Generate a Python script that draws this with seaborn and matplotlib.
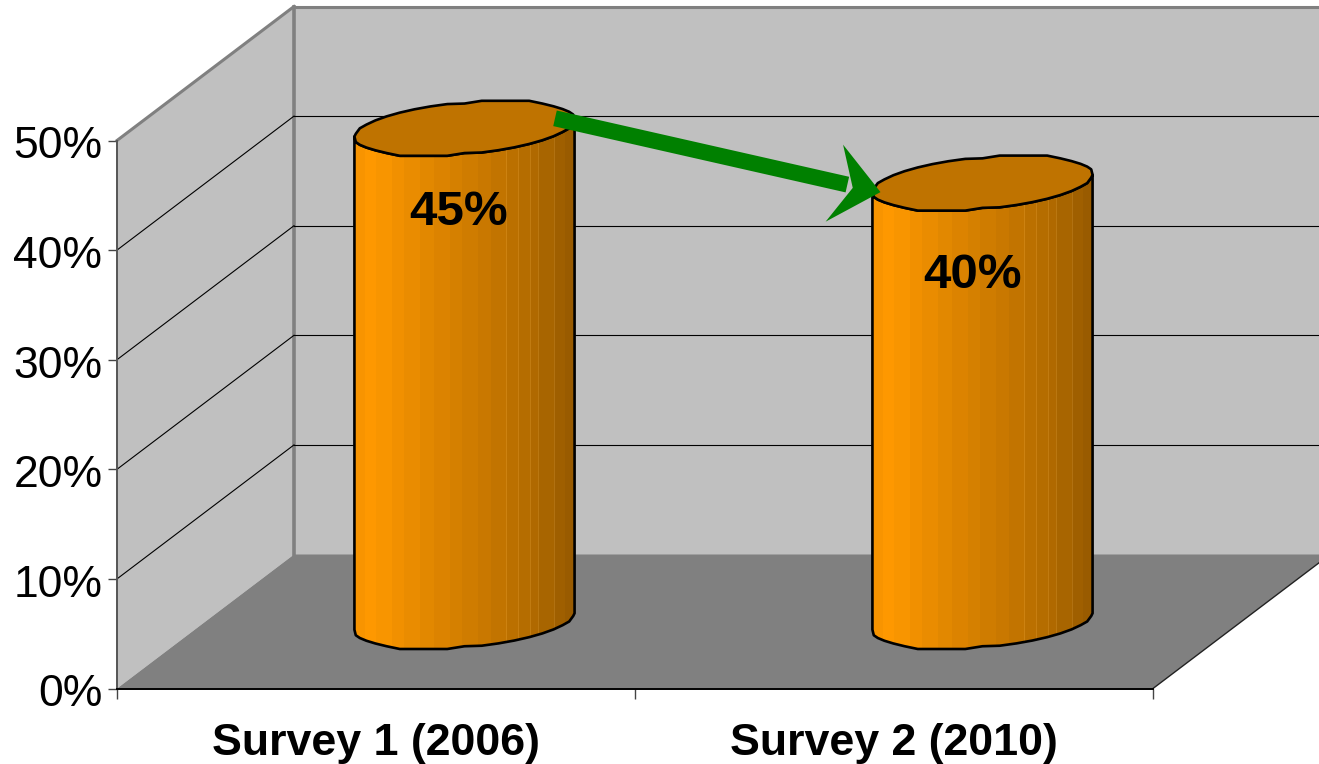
import numpy as np
import matplotlib
matplotlib.use("Agg")
import matplotlib.pyplot as plt
from matplotlib.colors import to_rgb
from matplotlib.patches import Polygon, PathPatch
from matplotlib.path import Path
from matplotlib.transforms import Affine2D, IdentityTransform, ScaledTranslation
import seaborn as sns

categories = ["Survey 1 (2006)", "Survey 2 (2010)"]
values = [45, 40]
value_labels = ["45%", "40%"]
y_ticks = [0, 10, 20, 30, 40, 50]

sns.set_theme(style="white")
plt.rcParams["font.family"] = ["Liberation Sans", "DejaVu Sans"]

W, H = 1319, 764
fig = plt.figure(figsize=(W / 100, H / 100), dpi=100, facecolor="white")
ax = fig.add_axes([117 / W, (H - 688.5) / H, 1036 / W, 548 / H], facecolor="none")

sns.barplot(x=categories, y=values, width=0.425, color="#FF9900", saturation=1,
            ax=ax, zorder=3)
ax.set_xlim(-0.5, 1.5)
ax.set_ylim(0, 50)

# Oblique projection: screen offset in pixels of the full box depth
DEPTH = np.array([177.0, 134.0])
to_px = ax.transData.transform


def add_poly(points, **kw):
    patch = Polygon(points, closed=True, transform=IdentityTransform(), clip_on=False, **kw)
    ax.add_patch(patch)
    return patch


def add_line(a, b, color, lw, z=1.5):
    ax.plot([a[0], b[0]], [a[1], b[1]], color=color, lw=lw, transform=IdentityTransform(),
            clip_on=False, zorder=z, solid_capstyle="projecting")


# Walls and floor of the 3D box
p00, p10 = to_px((-0.5, 0)), to_px((1.5, 0))
p01, p11 = to_px((-0.5, 50)), to_px((1.5, 50))
add_poly([p00, p01, p01 + DEPTH, p00 + DEPTH], facecolor="#C0C0C0", edgecolor="none", zorder=1)
add_poly([p00 + DEPTH, p01 + DEPTH, p11 + DEPTH, p10 + DEPTH], facecolor="#C0C0C0",
         edgecolor="none", zorder=1)
add_poly([p00, p10, p10 + DEPTH, p00 + DEPTH], facecolor="#808080", edgecolor="none", zorder=1.2)

for v in y_ticks[1:-1]:
    front = to_px((-0.5, v))
    back = front + DEPTH
    add_line(front, back, "black", 0.8)
    add_line(back, to_px((1.5, v)) + DEPTH, "black", 0.8)

add_line(p01, p01 + DEPTH, "#808080", 2.2)
add_line(p01 + DEPTH, p11 + DEPTH, "#808080", 2.2)
add_line(p00 + DEPTH, p01 + DEPTH, "#808080", 2.6, z=1.1)
add_line(p10, p10 + DEPTH, "#222222", 1.0)

# Colour bands running around the cylinder body
stops_x = [0.00, 0.08, 0.30, 0.60, 0.80, 1.00]
stops_c = ["#F59300", "#FF9900", "#E68A00", "#C87800", "#B26B00", "#965A00"]
rgb = np.array([to_rgb(c) for c in stops_c])
n_col = 220
band_edges = np.array([0, 11, 22, 38, 50, 66, 80, 96, 108, 123, 136, 151, 163, 175, 183, 199, 210, 220])
band_colour = np.zeros((1, n_col, 3))
for lo, hi in zip(band_edges[:-1], band_edges[1:]):
    mid = (lo + hi) / 2 / n_col
    band_colour[0, lo:hi] = [np.interp(mid, stops_x, rgb[:, k]) for k in range(3)]
for seam in (151, 163, 175, 183, 199):
    band_colour[0, seam] = np.minimum(band_colour[0, seam] + 0.07, 1)

TOP_COLOUR = "#BF7300"
EDGE_LW = 1.9
N = 40
SNAP = 2.75

for bar, label, (lx, ly) in zip(ax.patches, value_labels, [(-5.5, -84), (-9.5, -92)]):
    left, width, height = bar.get_x(), bar.get_width(), bar.get_height()
    base = to_px((left + width / 2, 0)) + DEPTH / 2
    top = to_px((left + width / 2, height)) + DEPTH / 2
    half_w = (to_px((left + width, 0))[0] - to_px((left, 0))[0]) / 2

    # Elliptical cross-section sheared along the depth direction
    ey = 27.5
    ex = ey * DEPTH[0] / DEPTH[1]
    rx = np.sqrt(half_w ** 2 - ex ** 2)
    a = np.arctan2(ex, rx)
    t = a + np.arange(N + 1) * 2 * np.pi / N

    def ring(centre, params):
        # The coarse outline steps only along the flats and two opposite shoulders
        xs = rx * np.cos(params) + ex * np.sin(params)
        ys = ey * np.sin(params)
        stepped = (np.sin(params) * np.cos(params) > 0) | (np.abs(np.sin(params)) > 0.93)
        ys = np.where(stepped, np.round(ys / SNAP) * SNAP, ys)
        return np.column_stack([centre[0] + xs, centre[1] + ys])

    front_t = t[N // 2:]
    body_pts = np.vstack([ring(base, front_t), ring(top, front_t[::-1])])
    outline = Path(np.vstack([body_pts, body_pts[:1]]), closed=True)
    body = PathPatch(outline, facecolor="none", edgecolor="black", lw=EDGE_LW,
                     transform=IdentityTransform(), clip_on=False, zorder=5, joinstyle="round")
    ax.add_patch(body)

    # Slide the bar to mid-depth and shape it to the cylinder silhouette
    bar.set_transform(ax.transData + Affine2D().translate(*(DEPTH / 2)))
    bar.set_edgecolor("none")
    bar.set_clip_box(fig.bbox)
    bar.set_clip_path(body)

    im = ax.imshow(band_colour, extent=(base[0] - half_w, base[0] + half_w,
                                        base[1] - 40, top[1] + 40),
                   transform=IdentityTransform(), aspect="auto", interpolation="nearest", zorder=4)
    im.set_clip_box(fig.bbox)
    im.set_clip_path(body)

    add_poly(ring(top, t[:-1]), facecolor=TOP_COLOUR, edgecolor="black", lw=EDGE_LW,
             zorder=6, joinstyle="round")

    ax.text(top[0] + lx, top[1] + ly, label, transform=IdentityTransform(), ha="center",
            va="center", fontsize=35.5, fontweight="bold", color="black", zorder=8)

# Green arrow from the first cylinder's top to the second's
top_a = to_px((0, values[0])) + DEPTH / 2
top_b = to_px((1, values[1])) + DEPTH / 2
start = top_a + np.array([90.5, 10.0])
tip = top_b + np.array([-102.0, -9.0])
u = (tip - start) / np.linalg.norm(tip - start)
n = np.array([-u[1], u[0]])
add_poly([tip, tip - 47 * u + 38 * n, tip - 28 * u - 2 * n, tip - 47 * u - 41 * n],
         facecolor="#008000", edgecolor="none", zorder=7)
shaft_end = tip - 34 * u
add_poly([start + 8 * n, shaft_end + 8 * n, shaft_end - 8 * n, start - 8 * n],
         facecolor="#008000", edgecolor="none", zorder=7)

# Axes, ticks and labels
ax.set_yticks(y_ticks)
ax.set_yticklabels([f"{v}%" for v in y_ticks])
ax.set_xticks([-0.5, 0.5, 1.5])
ax.set_xticklabels([])
ax.set_xticks([0, 1], minor=True)
ax.set_xticklabels(categories, minor=True, fontsize=32.2, fontweight="bold")
ax.tick_params(axis="y", which="major", left=True, length=6.5, width=1, color="#444444",
               labelsize=32, pad=4, labelcolor="black")
ax.tick_params(axis="x", which="major", bottom=True, length=7, width=1, color="#444444")
ax.tick_params(axis="x", which="minor", bottom=False, length=0, pad=25, labelcolor="black")
for lab in ax.get_yticklabels():
    lab.set_transform(lab.get_transform() + ScaledTranslation(0, -2 / 100, fig.dpi_scale_trans))
ax.set_xlabel("")
ax.set_ylabel("")
for side in ("top", "right"):
    ax.spines[side].set_visible(False)
ax.spines["left"].set_color("#555555")
ax.spines["left"].set_linewidth(1.4)
ax.spines["bottom"].set_color("black")
ax.spines["bottom"].set_linewidth(1.4)
for s in ax.spines.values():
    s.set_zorder(2)

fig.savefig("out.png", dpi=100)
